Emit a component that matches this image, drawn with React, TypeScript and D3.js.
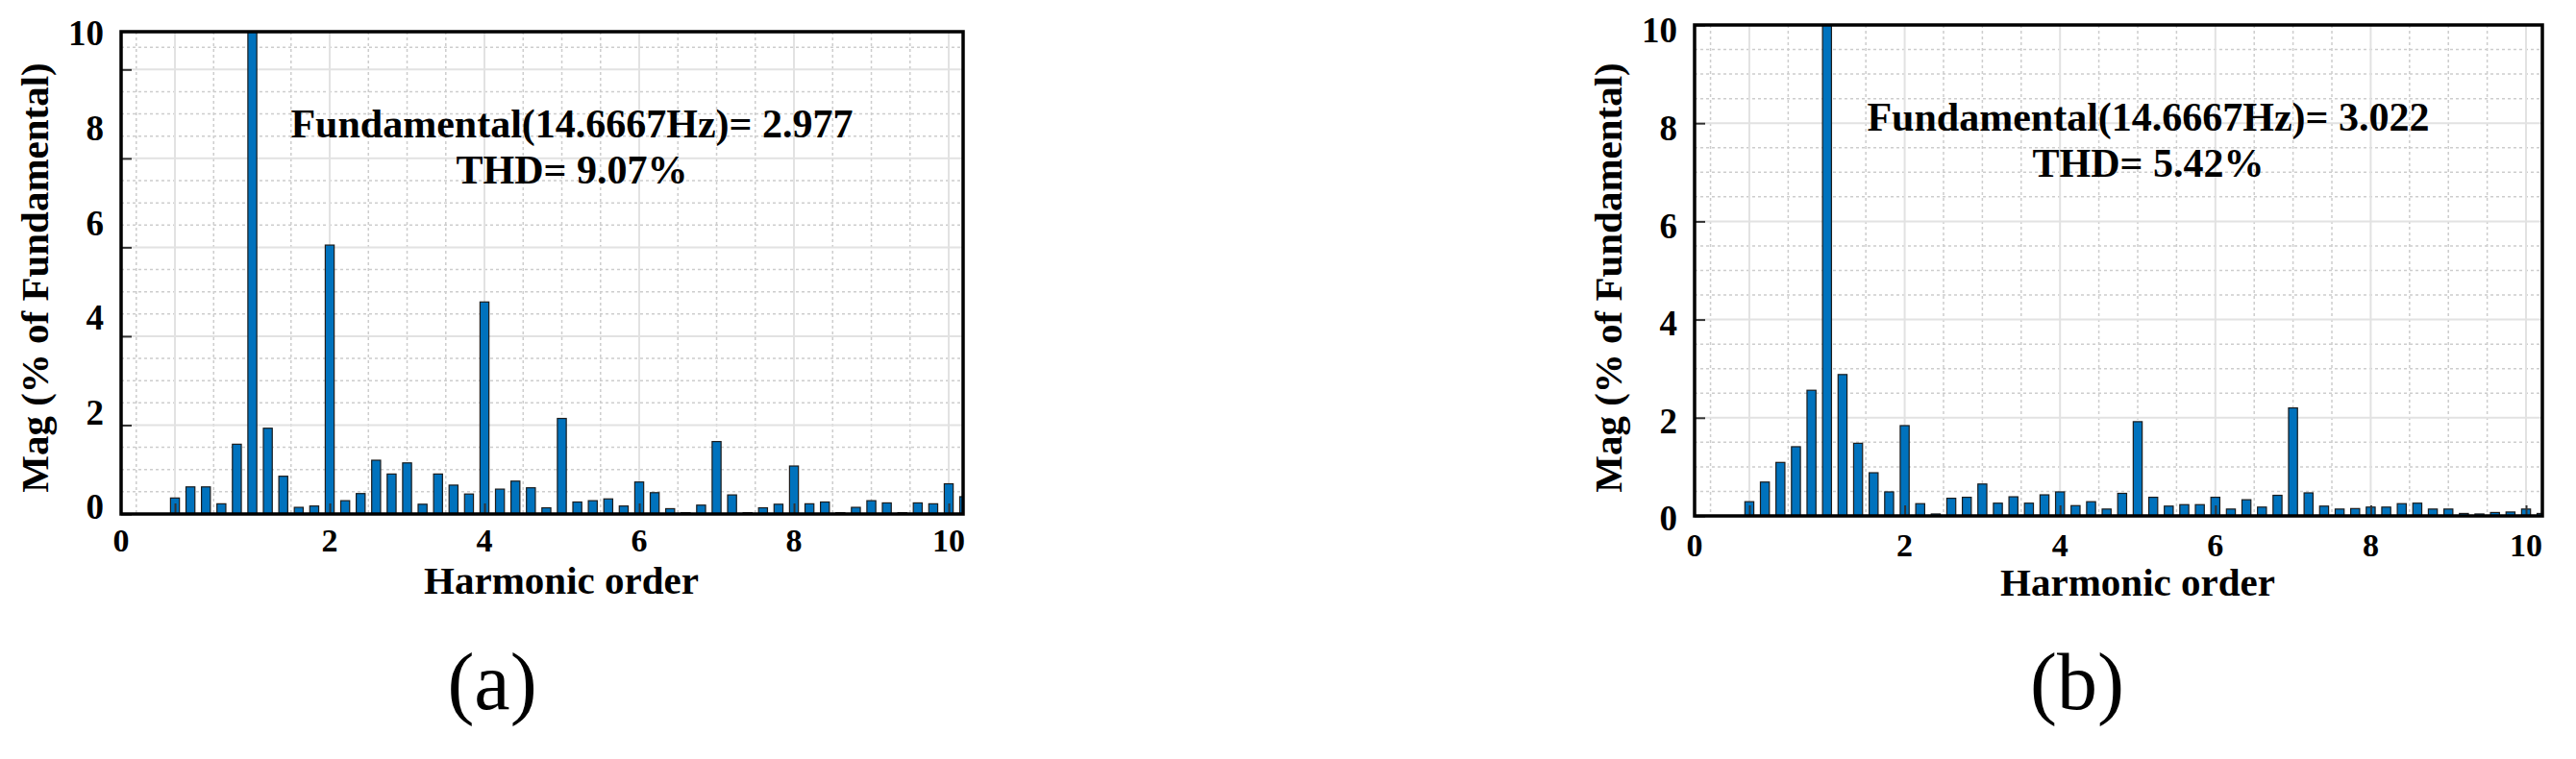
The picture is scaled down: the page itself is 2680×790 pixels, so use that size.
import React, { useEffect, useRef } from 'react';
import * as d3 from 'd3';

// harmonic orders (fundamental = 1), one bar every 0.2
const orders = [
  0, 0.2, 0.4, 0.6, 0.8, 1.0, 1.2, 1.4, 1.6, 1.8,
  2.0, 2.2, 2.4, 2.6, 2.8, 3.0, 3.2, 3.4, 3.6, 3.8,
  4.0, 4.2, 4.4, 4.6, 4.8, 5.0, 5.2, 5.4, 5.6, 5.8,
  6.0, 6.2, 6.4, 6.6, 6.8, 7.0, 7.2, 7.4, 7.6, 7.8,
  8.0, 8.2, 8.4, 8.6, 8.8, 9.0, 9.2, 9.4, 9.6, 9.8,
  10.0, 10.2,
];

// Mag (% of fundamental), panel (a)
const magA = [
  0.36, 0.61, 0.61, 0.23, 1.57, 100, 1.93, 0.85, 0.15, 0.18,
  6.05, 0.30, 0.46, 1.21, 0.90, 1.15, 0.22, 0.90, 0.65, 0.45,
  4.77, 0.56, 0.74, 0.59, 0.14, 2.15, 0.27, 0.30, 0.34, 0.18,
  0.72, 0.48, 0.12, 0.03, 0.20, 1.63, 0.43, 0.03, 0.14, 0.22,
  1.08, 0.23, 0.27, 0.03, 0.15, 0.30, 0.25, 0.03, 0.25, 0.23,
  0.68, 0.39,
];

// Mag (% of fundamental), panel (b)
const magB = [
  0.29, 0.69, 1.09, 1.41, 2.56, 100, 2.88, 1.48, 0.88, 0.49,
  1.84, 0.25, 0.04, 0.36, 0.38, 0.65, 0.26, 0.39, 0.26, 0.43,
  0.49, 0.21, 0.29, 0.14, 0.46, 1.92, 0.38, 0.20, 0.23, 0.23,
  0.38, 0.14, 0.33, 0.18, 0.42, 2.20, 0.47, 0.20, 0.14, 0.15,
  0.18, 0.18, 0.25, 0.26, 0.14, 0.14, 0.05, 0.04, 0.07, 0.08,
  0.14, 0.05,
];

const xTicks = [0, 2, 4, 6, 8, 10];
const yTicks = [0, 2, 4, 6, 8, 10];
const fundA = 'Fundamental(14.6667Hz)= 2.977';
const thdA = 'THD= 9.07%';
const fundB = 'Fundamental(14.6667Hz)= 3.022';
const thdB = 'THD= 5.42%';

const SERIF = "'Liberation Serif', 'Times New Roman', serif";

const panels = [
  {
    id: 'a', mags: magA, fund: fundA, thd: thdA, caption: '(a)',
    left: 126, right: 1002, top: 33, bottom: 535,
    xDomain: [-0.696, 10.186], yMax: 10.85,
    yLabelRange: [528, 35], xLabelPad: 15, captionX: 512,
  },
  {
    id: 'b', mags: magB, fund: fundB, thd: thdB, caption: '(b)',
    left: 1763, right: 2645, top: 26, bottom: 537,
    xDomain: [-0.705, 10.21], yMax: 10,
    yLabelRange: [540, 32], xLabelPad: 18, captionX: 2161,
  },
];

function drawPanel(svg, p) {
  const x = d3.scaleLinear().domain(p.xDomain).range([p.left, p.right]);
  const y = d3.scaleLinear().domain([0, p.yMax]).range([p.bottom, p.top]);
  const yLab = d3.scaleLinear().domain([0, 10]).range(p.yLabelRange);
  const g = svg.append('g');
  const clipId = `clip-${p.id}`;

  svg.append('defs').append('clipPath').attr('id', clipId)
    .append('rect')
    .attr('x', p.left)
    .attr('y', p.top)
    .attr('width', p.right - p.left)
    .attr('height', p.bottom - p.top);

  const grid = g.append('g').attr('clip-path', `url(#${clipId})`);
  const isMajor = v => Math.abs(v % 2) < 1e-6;

  // minor dotted grid
  const minorX = d3.range(-0.5, 10.6, 0.5).filter(v => !isMajor(v));
  const minorY = d3.range(0.5, 11, 0.5).filter(v => !isMajor(v));
  grid.selectAll('line.mx').data(minorX).join('line')
    .attr('x1', d => x(d)).attr('x2', d => x(d))
    .attr('y1', p.top).attr('y2', p.bottom)
    .attr('stroke', '#cdcdcd').attr('stroke-width', 1.5)
    .attr('stroke-dasharray', '3 3');
  grid.selectAll('line.my').data(minorY).join('line')
    .attr('x1', p.left).attr('x2', p.right)
    .attr('y1', d => y(d)).attr('y2', d => y(d))
    .attr('stroke', '#cdcdcd').attr('stroke-width', 1.5)
    .attr('stroke-dasharray', '3 3');

  // major solid grid
  grid.selectAll('line.gx').data(xTicks).join('line')
    .attr('x1', d => x(d)).attr('x2', d => x(d))
    .attr('y1', p.top).attr('y2', p.bottom)
    .attr('stroke', '#e2e2e2').attr('stroke-width', 2);
  grid.selectAll('line.gy').data(yTicks.slice(1)).join('line')
    .attr('x1', p.left).attr('x2', p.right)
    .attr('y1', d => y(d)).attr('y2', d => y(d))
    .attr('stroke', '#e2e2e2').attr('stroke-width', 2);

  // bars
  const half = 0.0575;
  const rows = orders.map((o, i) => ({ o, v: Math.min(p.mags[i], p.yMax + 1) }));
  g.append('g').attr('clip-path', `url(#${clipId})`)
    .selectAll('rect').data(rows).join('rect')
    .attr('x', d => x(d.o - half))
    .attr('width', 2 * (x(half) - x(0)))
    .attr('y', d => y(d.v))
    .attr('height', d => Math.max(y(0) - y(d.v), 0.8))
    .attr('fill', '#0072bd')
    .attr('stroke', '#1c1c1c')
    .attr('stroke-width', 1.2);

  // inward tick marks
  g.append('g').attr('transform', `translate(${p.left},0)`)
    .call(d3.axisLeft(y).tickValues(yTicks).tickSize(-11).tickFormat(() => ''))
    .call(a => a.select('.domain').remove())
    .call(a => a.selectAll('line').attr('stroke', '#333').attr('stroke-width', 2));
  g.append('g').attr('transform', `translate(0,${p.bottom})`)
    .call(d3.axisBottom(x).tickValues(xTicks).tickSize(-11).tickFormat(() => ''))
    .call(a => a.select('.domain').remove())
    .call(a => a.selectAll('line').attr('stroke', '#333').attr('stroke-width', 2));

  // box
  g.append('rect')
    .attr('x', p.left).attr('y', p.top)
    .attr('width', p.right - p.left).attr('height', p.bottom - p.top)
    .attr('fill', 'none').attr('stroke', '#000').attr('stroke-width', 3.5);

  // y tick labels
  g.append('g').attr('transform', `translate(${p.left},0)`)
    .call(d3.axisLeft(yLab).tickValues(yTicks).tickSize(0).tickPadding(18))
    .call(a => a.select('.domain').remove())
    .call(a => a.selectAll('text')
      .attr('font-family', SERIF).attr('font-weight', 'bold')
      .attr('font-size', 37).attr('fill', '#000'));

  // x tick labels ("0" sits at the left edge of the box)
  g.append('g').selectAll('text').data(xTicks).join('text')
    .attr('x', d => (d === 0 ? p.left : x(d)))
    .attr('y', p.bottom + p.xLabelPad)
    .attr('dy', '0.71em')
    .attr('text-anchor', 'middle')
    .attr('font-family', SERIF).attr('font-weight', 'bold').attr('font-size', 34)
    .text(d => d);

  const cx = (p.left + p.right) / 2;
  g.append('text')
    .attr('x', cx + 20).attr('y', p.bottom + 83)
    .attr('text-anchor', 'middle')
    .attr('font-family', SERIF).attr('font-weight', 'bold').attr('font-size', 41)
    .text('Harmonic order');

  g.append('text')
    .attr('transform', `translate(${p.left - 76},289) rotate(-90)`)
    .attr('text-anchor', 'middle')
    .attr('font-family', SERIF).attr('font-weight', 'bold').attr('font-size', 41)
    .text('Mag (% of Fundamental)');

  g.append('text')
    .attr('x', cx + 31).attr('y', p.top + 110)
    .attr('text-anchor', 'middle')
    .attr('font-family', SERIF).attr('font-weight', 'bold').attr('font-size', 42)
    .text(p.fund);
  g.append('text')
    .attr('x', cx + 31).attr('y', p.top + 158)
    .attr('text-anchor', 'middle')
    .attr('font-family', SERIF).attr('font-weight', 'bold').attr('font-size', 42)
    .text(p.thd);

  svg.append('text')
    .attr('x', p.captionX).attr('y', 738)
    .attr('text-anchor', 'middle')
    .attr('font-family', SERIF).attr('font-size', 84)
    .text(p.caption);
}

export default function App() {
  const ref = useRef(null);

  useEffect(() => {
    const svg = d3.select(ref.current);
    svg.selectAll('*').remove();
    panels.forEach(p => drawPanel(svg, p));
  }, []);

  return (
    <svg
      ref={ref}
      width={2680}
      height={790}
      style={{ position: 'absolute', left: 0, top: 0, background: '#fff' }}
    />
  );
}
